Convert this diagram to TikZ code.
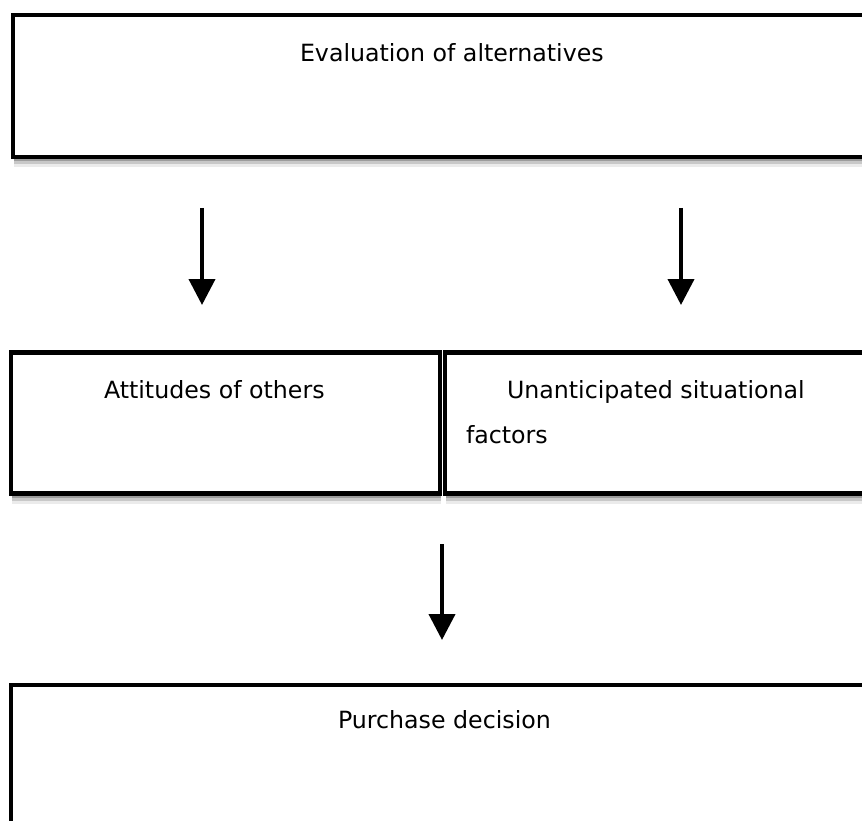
\documentclass[tikz,border=0pt]{standalone}
\usepackage{fontspec}
\setmainfont{DejaVu Sans}
\usetikzlibrary{arrows.meta,shadows}
\tikzset{
  boxnode/.style={draw=black, line width=4.5pt, fill=white, rectangle, outer sep=0pt, inner sep=0pt, anchor=north west,
    drop shadow={shadow xshift=1pt, shadow yshift=-4pt, opacity=0.22, fill=black},
    drop shadow={shadow xshift=1pt, shadow yshift=-7pt, opacity=0.15, fill=black},
    drop shadow={shadow xshift=1pt, shadow yshift=-10pt, opacity=0.08, fill=black}},
  label/.style={anchor=base west, inner sep=0pt, outer sep=0pt, font=\fontsize{23.7}{28}\selectfont, text=black},
  flowarrow/.style={line width=4pt, -{Triangle[width=26pt,length=26pt]}, shorten >=0pt},
}
\begin{document}
\begin{tikzpicture}[x=1pt,y=-1pt]
\useasboundingbox (0,0) rectangle (862,821);
\clip (0,0) rectangle (862,821);
\node[boxnode, minimum width=887pt, minimum height=142pt] (top) at (13,15) {};
\node[boxnode, minimum width=429pt, minimum height=141pt] (midl) at (11,352.5) {};
\node[boxnode, minimum width=455pt, minimum height=141pt] (midr) at (445,352.5) {};
\node[boxnode, minimum width=889pt, minimum height=215pt] (bot) at (11,685) {};

\node[label] (t1) at (300,62) {Evaluation of alternatives};
\node[label] (t2) at (104,398) {Attitudes of others};
\node[label] (t3) at (507,398) {Unanticipated situational};
\node[label] (t4) at (466,443) {factors};
\node[label] (t5) at (338,728) {Purchase decision};

\coordinate (a1s) at (202,208);
\coordinate (a1e) at (202,305);
\coordinate (a2s) at (681,208);
\coordinate (a2e) at (681,305);
\coordinate (a3s) at (442,544);
\coordinate (a3e) at (442,640);
\draw[flowarrow] (a1s) -- (a1e);
\draw[flowarrow] (a2s) -- (a2e);
\draw[flowarrow] (a3s) -- (a3e);
\end{tikzpicture}
\end{document}
